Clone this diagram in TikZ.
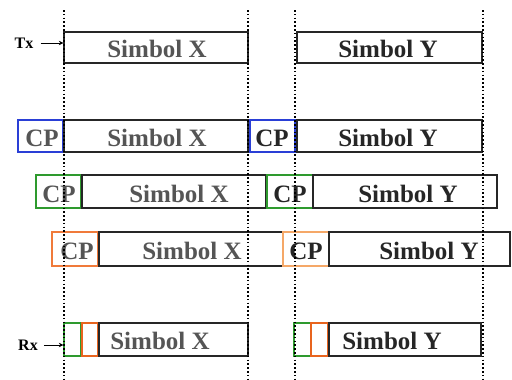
\documentclass[tikz,border=0pt]{standalone}
\usepackage{fontspec}
\setmainfont{Liberation Serif}
\usetikzlibrary{arrows.meta}
\definecolor{cpblue}{HTML}{2A3FD6}
\definecolor{cpgreen}{HTML}{2E9A2E}
\definecolor{cporange}{HTML}{F07A3A}
\definecolor{cplight}{HTML}{F5A868}
\definecolor{rxorange}{HTML}{E8641E}
\definecolor{txtgray}{HTML}{555555}
\definecolor{txtdark}{HTML}{262626}
\tikzset{
  box/.style={draw=#1, line width=1.3pt, inner sep=0pt, rectangle},
  sym/.style={font=\fontsize{25}{30}\selectfont\bfseries, inner sep=0pt, anchor=base},
  tag/.style={font=\fontsize{16}{18}\selectfont\bfseries, inner sep=0pt},
  guide/.style={line width=1.3pt, dash pattern=on 1.6pt off 2.2pt},
  arr/.style={-{Stealth[length=4.5pt,width=4.5pt]}, line width=0.9pt}
}
% box macro: name, color, x1, x2, y1, y2
\newcommand{\bx}[6]{\node[box=#2, minimum width={(#4-#3)*1pt}, minimum height={(#6-#5)*1pt}] (#1) at ({(#3+#4)/2},{(#5+#6)/2}) {};}
\begin{document}
\begin{tikzpicture}[x=1pt,y=-1pt]
\useasboundingbox (0,0) rectangle (512,380);
% Row 1 (Tx)
\bx{ax}{black!85}{64}{248}{32}{63}
\bx{ay}{black!85}{297}{482}{32}{63}
\node[sym, text=txtgray] at (157,57) {Simbol X};
\node[sym, text=txtdark] at (388,57) {Simbol Y};
\node[tag] (tx) at (24,43) {Tx};
\draw[arr] (tx.east) ++(7,0) coordinate (txs) -- (txs -| ax.west);
% Row 2
\bx{bcx}{cpblue}{18}{63}{120}{152}
\bx{bx}{black!85}{64}{248}{120}{152}
\bx{bcy}{cpblue}{250}{295}{120}{152}
\bx{by}{black!85}{297}{482}{120}{152}
\node[sym, text=txtgray] at (42,146) {CP};
\node[sym, text=txtgray] at (157,146) {Simbol X};
\node[sym, text=txtdark] at (272,146) {CP};
\node[sym, text=txtdark] at (388,146) {Simbol Y};
% Row 3
\bx{ccx}{cpgreen}{36}{81}{175}{208}
\bx{cx}{black!85}{82}{266}{175}{208}
\bx{ccy}{cpgreen}{267}{313}{175}{208}
\bx{cy}{black!85}{313}{497}{175}{208}
\node[sym, text=txtgray] at (59,202) {CP};
\node[sym, text=txtgray] at (179,202) {Simbol X};
\node[sym, text=txtdark] at (290,202) {CP};
\node[sym, text=txtdark] at (408,202) {Simbol Y};
% Row 4
\bx{dcx}{cporange}{52}{98}{232}{266}
\bx{dx}{black!85}{99}{283}{232}{266}
\bx{dcy}{cplight}{283}{329}{232}{266}
\bx{dy}{black!85}{329}{510}{232}{266}
\node[sym, text=txtgray] at (77,259) {CP};
\node[sym, text=txtgray] at (192,259) {Simbol X};
\node[sym, text=txtdark] at (306,259) {CP};
\node[sym, text=txtdark] at (429,259) {Simbol Y};
% Row 5 (Rx)
\bx{egx}{cpgreen}{64}{81}{323}{356}
\bx{eox}{rxorange}{82}{98}{323}{356}
\bx{ex}{black!85}{99}{248}{323}{356}
\bx{egy}{cpgreen}{294}{311}{323}{356}
\bx{eoy}{rxorange}{311}{328}{323}{356}
\bx{ey}{black!85}{329}{481}{323}{356}
\node[sym, text=txtgray] at (160,349) {Simbol X};
\node[sym, text=txtdark] at (392,349) {Simbol Y};
\node[tag] (rx) at (28,345) {Rx};
\draw[arr] (rx.east) ++(6,0) coordinate (rxs) -- (rxs -| egx.west);
% Dotted guides
\foreach \g/\x in {g1/64, g2/248, g3/295, g4/483} {
  \coordinate (\g t) at (\x,10);
  \coordinate (\g b) at (\x,380);
  \draw[guide] (\g t) -- (\g b);
}
\end{tikzpicture}
\end{document}
